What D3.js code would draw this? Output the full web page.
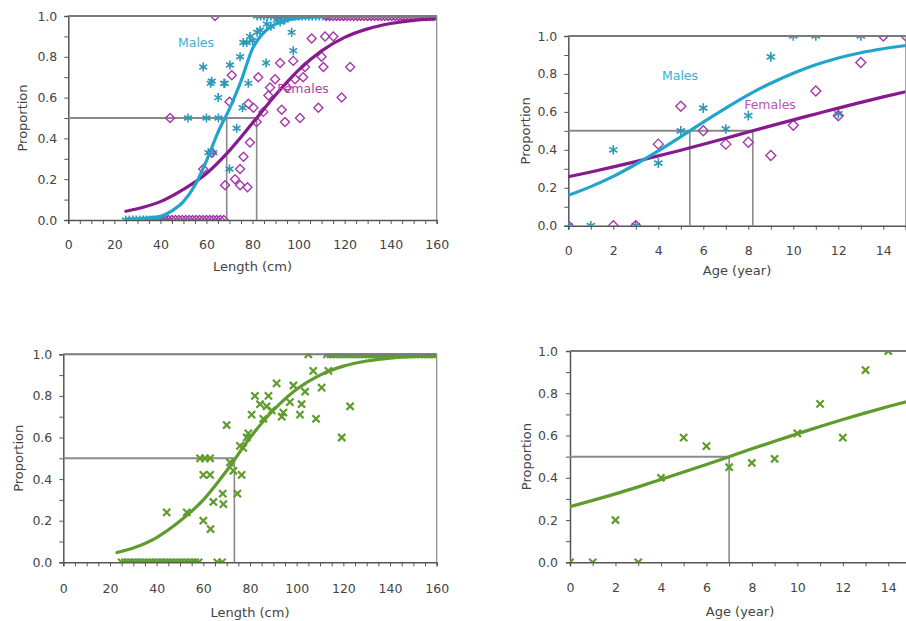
<!DOCTYPE html>
<html><head><meta charset="utf-8">
<script src="https://cdn.jsdelivr.net/npm/d3@7"></script>
<style>
body{margin:0;background:#fff;}
svg{display:block;font-family:"DejaVu Sans",Arial,sans-serif;}
</style></head>
<body><svg id="c" width="906" height="621"></svg>
<script>
// ---------- DATA ----------
// Panel A: maturity by length, by sex
const lenMaleX = [25,26.5,28,29.5,31,32.5,34,35.5,37,38.5,40,41.5,43,
  52,58.6,60,60.8,61.8,62.3,63,65.1,65.2,67.6,68,70,70.2,73.1,74.6,75.7,76,77.5,78.2,78.9,80,82,83.3,85.9,86.2,88,90.5,92,94,97,97.7,
  82,83.5,85,86.5,88,89.5,91,92.5,94,95.5,97,98.5,100,101.5,103,104.5,106,107.5,109,110.5,112];
const lenMaleY = [0,0,0,0,0,0,0,0,0,0,0,0,0,
  0.5,0.75,0.5,0.33,0.67,0.68,0.33,0.6,0.5,0.67,0.67,0.25,0.76,0.45,0.8,0.55,0.87,0.87,0.67,0.9,0.88,0.92,0.93,0.77,0.96,0.95,0.98,0.97,0.98,0.92,0.83,
  1,1,1,1,1,1,1,1,1,1,1,1,1,1,1,1,1,1,1,1,1];
const lenFemX = [42,43.5,45,46.5,48,49.5,51,52.5,54,55.5,57,58.5,60,61.5,63,64.5,66,67.5,
  63.7,44.2,58.6,62.3,70,71,68.1,72.4,74.6,76.1,74.6,77.8,78.9,78.2,80.4,82.5,81.8,84.7,86.9,87.6,89.8,92,92.7,94.1,95,97.7,98.5,100.6,102.8,102,105.7,108.6,110,110.8,111.5,115.1,118.7,122.4,
  112,113.5,115,116.5,118,119.5,121,122.5,124,125.5,127,128.5,130,131.5,133,134.5,136,137.5,139,140.5,142,143.5,145,146.5,148,149.5,151,152.5,154,155.5,157,158.5];
const lenFemY = [0,0,0,0,0,0,0,0,0,0,0,0,0,0,0,0,0,0,
  1,0.5,0.25,0.33,0.58,0.71,0.17,0.2,0.25,0.31,0.17,0.16,0.38,0.57,0.55,0.7,0.48,0.53,0.61,0.65,0.69,0.77,0.54,0.48,0.65,0.78,0.69,0.5,0.75,0.7,0.89,0.55,0.8,0.75,0.9,0.9,0.6,0.75,
  1,1,1,1,1,1,1,1,1,1,1,1,1,1,1,1,1,1,1,1,1,1,1,1,1,1,1,1,1,1,1,1];
const lenMaleCurveX = [25,30,35,40,45,50,55,60,65,70,75,80,85,90,95,100,110,120,140,160];
const lenMaleCurveY = [0.003,0.006,0.010,0.018,0.045,0.09,0.17,0.29,0.43,0.545,0.68,0.84,0.92,0.96,0.98,0.99,0.997,1,1,1];
const lenFemCurveX = [25,30,40,50,60,70,80,90,100,110,120,130,140,150,160];
const lenFemCurveY = [0.043,0.055,0.09,0.15,0.228,0.34,0.475,0.613,0.735,0.829,0.895,0.937,0.963,0.979,0.987];
const lenL50 = [68.8, 81.8];

// Panel B: maturity by age, by sex
const ageMaleX = [0,1,3,2,4,5,6,7,8,9,10,11,13,12];
const ageMaleY = [0,0,0,0.40,0.33,0.50,0.62,0.51,0.58,0.89,1,1,1,0.59];
const ageFemX = [0,2,3,4,5,6,7,8,9,10,11,12,13,14,15];
const ageFemY = [0,0,0,0.43,0.63,0.50,0.43,0.44,0.37,0.53,0.71,0.58,0.86,1,1];
const ageCurveX = [0,1,2,3,4,5,6,7,8,9,10,11,12,13,14,15];
const ageMaleCurveY = [0.16,0.206,0.26,0.324,0.394,0.469,0.546,0.62,0.69,0.751,0.804,0.848,0.884,0.912,0.933,0.95];
const ageFemCurveY = [0.258,0.283,0.31,0.338,0.368,0.398,0.429,0.461,0.494,0.526,0.558,0.589,0.62,0.65,0.679,0.706];
const ageA50 = [5.4, 8.2];

// Panel C: maturity by length, sexes combined
const lenAllX = [25,26.5,28,29.5,31,32.5,34,35.5,37,38.5,40,41.5,43,44.5,46,47.5,49,50.5,52,53.5,55,56.5,58,66,68,
  44.3,52.9,60,63.1,64.3,68.6,68.3,70,58.6,60.7,62.9,60,62.9,71.4,72.9,76.4,74.6,75.7,77.1,79.3,78.6,80.7,82.1,84.3,85.7,87.1,87.9,89.3,91.4,93.6,94.3,97.1,98.6,101.4,102.1,103.6,105,107.1,108.3,110.7,113.6,119.3,122.9,
  113,114.5,116,117.5,119,120.5,122,123.5,125,126.5,128,129.5,131,132.5,134,135.5,137,138.5,140,141.5,143,144.5,146,147.5,149,150.5,152,153.5,155,156.5,158,159.5];
const lenAllY = [0,0,0,0,0,0,0,0,0,0,0,0,0,0,0,0,0,0,0,0,0,0,0,0,0,
  0.24,0.24,0.2,0.16,0.29,0.28,0.33,0.66,0.5,0.5,0.5,0.42,0.42,0.48,0.44,0.42,0.33,0.56,0.55,0.62,0.6,0.71,0.8,0.76,0.69,0.75,0.8,0.73,0.86,0.7,0.72,0.77,0.85,0.71,0.76,0.82,1,0.92,0.69,0.84,0.92,0.6,0.75,
  1,1,1,1,1,1,1,1,1,1,1,1,1,1,1,1,1,1,1,1,1,1,1,1,1,1,1,1,1,1,1,1];
const lenAllCurveX = [23,30,40,50,60,70,80,90,100,110,120,130,140,150,160];
const lenAllCurveY = [0.047,0.069,0.119,0.198,0.30,0.44,0.599,0.731,0.832,0.90,0.943,0.968,0.982,0.99,0.994];
const lenAllL50 = [73.3];

// Panel D: maturity by age, sexes combined
const ageAllX = [0,1,2,3,4,5,6,7,8,9,10,11,12,13,14];
const ageAllY = [0,0,0.20,0,0.40,0.59,0.55,0.45,0.47,0.49,0.61,0.75,0.59,0.91,1.0];
const ageAllCurveY = [0.263,0.293,0.324,0.357,0.392,0.427,0.463,0.5,0.537,0.573,0.608,0.643,0.676,0.707,0.737,0.765];
const ageAllA50 = [7.0];

const yTickLabels = ["0.0","0.2","0.4","0.6","0.8","1.0"];
const lenTickLabels = ["0","20","40","60","80","100","120","140","160"];
const ageTickLabels = ["0","2","4","6","8","10","12","14"];

// ---------- STYLE ----------
const C_MALE = "#22a4cc", C_MALE_PT = "#2b98b8", C_FEM = "#861a8e", C_FEM_PT = "#a43aa8", C_GREEN = "#5f9c2c";
const FONT = "DejaVu Sans, Arial, sans-serif";
const svg = d3.select("#c");

function panel(o){
  const x = d3.scaleLinear().domain(o.xd).range([o.l, o.r]);
  const y = d3.scaleLinear().domain([0,1]).range([o.b, o.t]);
  const g = svg.append("g");
  const clipId = "clip"+Math.round(o.l)+Math.round(o.t);
  svg.append("clipPath").attr("id",clipId).append("rect")
     .attr("x",o.l).attr("y",o.t-1).attr("width",o.r-o.l).attr("height",o.b-o.t+1);
  // y axis ticks
  const ya = d3.axisLeft(y).tickValues(d3.range(0,1.01,0.1)).tickSize(4).tickFormat(()=>"");
  const yag = g.append("g").attr("transform",`translate(${o.l},0)`).call(ya);
  const yl = d3.axisLeft(y).tickValues(yTickLabels.map(Number)).tickSize(0).tickPadding(o.ypad)
     .tickFormat((d,i)=>yTickLabels[i]);
  const ylg = g.append("g").attr("transform",`translate(${o.l},0)`).call(yl);
  ylg.select(".domain").remove();
  // x axis
  const xa = d3.axisBottom(x).tickValues(o.minor).tickSize(4).tickFormat(()=>"");
  const xag = g.append("g").attr("transform",`translate(0,${o.b})`).call(xa);
  const xl = d3.axisBottom(x).tickValues(o.labels.map(Number)).tickSize(0).tickPadding(o.xpad)
     .tickFormat((d,i)=>o.labels[i]);
  const xlg = g.append("g").attr("transform",`translate(0,${o.b})`).call(xl);
  xlg.select(".domain").remove();
  [yag,xag].forEach(a=>{a.select(".domain").attr("stroke","#555").attr("stroke-width",1.5);a.selectAll(".tick line").attr("stroke","#555");});
  [ylg,xlg].forEach(a=>a.selectAll("text").attr("fill","#444").attr("font-size",12.5).attr("font-family",FONT));
  // titles
  g.append("text").attr("x",(o.l+Math.min(o.r,906))/2 + (o.xtOff||0)).attr("y",o.b+o.xt).attr("text-anchor","middle")
    .attr("font-size",13).attr("fill","#444").text(o.xtitle);
  g.append("text").attr("transform",`translate(${o.yt},${(o.t+o.b)/2}) rotate(-90)`).attr("text-anchor","middle")
    .attr("font-size",13).attr("fill","#444").text("Proportion");
  const plot = g.append("g").attr("clip-path",`url(#${clipId})`);
  // frame
  g.append("line").attr("x1",o.l).attr("x2",o.r).attr("y1",o.t).attr("y2",o.t).attr("stroke","#7a7a7a").attr("stroke-width",2);
  g.append("line").attr("x1",o.r).attr("x2",o.r).attr("y1",o.t).attr("y2",o.b).attr("stroke","#8a8a8a").attr("stroke-width",1.2);
  // reference lines
  const maxL = d3.max(o.l50);
  plot.append("line").attr("x1",x(0)).attr("x2",x(maxL)).attr("y1",y(0.5)).attr("y2",y(0.5)).attr("stroke","#8a8a8a").attr("stroke-width",2);
  o.l50.forEach(v=>plot.append("line").attr("x1",x(v)).attr("x2",x(v)).attr("y1",y(0.5)).attr("y2",y(0)).attr("stroke","#8a8a8a").attr("stroke-width",1.6));
  return {x,y,plot};
}

function star(sel, xs, ys, P, color, s){
  xs.forEach((v,i)=>{
    const cx=P.x(v), cy=P.y(ys[i]);
    const gg = sel.append("g").attr("stroke",color).attr("stroke-width",1.6);
    [0,60,120].forEach(a=>{
      const r=a*Math.PI/180;
      gg.append("line").attr("x1",cx-s*Math.sin(r)).attr("y1",cy-s*Math.cos(r)).attr("x2",cx+s*Math.sin(r)).attr("y2",cy+s*Math.cos(r));
    });
  });
}
function diamond(sel, xs, ys, P, color, s){
  sel.selectAll(null).data(xs).join("path")
    .attr("d",(d,i)=>{const cx=P.x(d), cy=P.y(ys[i]);return `M${cx},${cy-s}L${cx+s},${cy}L${cx},${cy+s}L${cx-s},${cy}Z`;})
    .attr("fill","none").attr("stroke",color).attr("stroke-width",1.4);
}
function cross(sel, xs, ys, P, color, s){
  sel.selectAll(null).data(xs).join("path")
    .attr("d",(d,i)=>{const cx=P.x(d), cy=P.y(ys[i]);return `M${cx-s},${cy-s}L${cx+s},${cy+s}M${cx+s},${cy-s}L${cx-s},${cy+s}`;})
    .attr("fill","none").attr("stroke",color).attr("stroke-width",2.2);
}
function curve(sel, xs, ys, P, color){
  const line = d3.line().x(d=>P.x(d[0])).y(d=>P.y(d[1])).curve(d3.curveMonotoneX);
  sel.append("path").datum(xs.map((v,i)=>[v,ys[i]])).attr("d",line)
    .attr("fill","none").attr("stroke",color).attr("stroke-width",3.2).attr("stroke-linecap","round");
}

// ---- Panel A ----
const A = panel({l:68.3,r:436.7,t:16,b:220,xd:[0,160],minor:d3.range(0,161,5),labels:lenTickLabels,
  ypad:11,xpad:20,xt:51,yt:27,xtitle:"Length (cm)",l50:lenL50});
star(A.plot, lenMaleX, lenMaleY, A, C_MALE_PT, 4.5);
diamond(A.plot, lenFemX, lenFemY, A, C_FEM_PT, 4.5);
curve(A.plot, lenFemCurveX, lenFemCurveY, A, C_FEM);
curve(A.plot, lenMaleCurveX, lenMaleCurveY, A, C_MALE);
svg.append("text").attr("x",196).attr("y",47).attr("text-anchor","middle").attr("font-size",12.5).attr("font-family",FONT).attr("fill","#3aaed6").text("Males");
svg.append("text").attr("x",303).attr("y",93).attr("text-anchor","middle").attr("font-size",12.5).attr("font-family",FONT).attr("fill","#b040b0").text("Females");

// ---- Panel B ----
const B = panel({l:568.3,r:905.8,t:36,b:225.7,xd:[0,15],minor:d3.range(0,16,1),labels:ageTickLabels,
  ypad:11,xpad:20,xt:49,yt:530,xtitle:"Age (year)",xtOff:0,l50:ageA50});
star(B.plot, ageMaleX, ageMaleY, B, C_MALE_PT, 4.8);
diamond(B.plot, ageFemX, ageFemY, B, C_FEM_PT, 5);
curve(B.plot, ageCurveX, ageFemCurveY, B, C_FEM);
curve(B.plot, ageCurveX, ageMaleCurveY, B, C_MALE);
svg.append("text").attr("x",680).attr("y",80).attr("text-anchor","middle").attr("font-size",12.5).attr("font-family",FONT).attr("fill","#3aaed6").text("Males");
svg.append("text").attr("x",770).attr("y",109).attr("text-anchor","middle").attr("font-size",12.5).attr("font-family",FONT).attr("fill","#c050c0").text("Females");

// ---- Panel C ----
const Cp = panel({l:63.3,r:436.7,t:354.3,b:562.3,xd:[0,160],minor:d3.range(0,161,5),labels:lenTickLabels,
  ypad:11,xpad:22,xt:55,yt:23,xtitle:"Length (cm)",l50:lenAllL50});
cross(Cp.plot, lenAllX, lenAllY, Cp, C_GREEN, 3.6);
curve(Cp.plot, lenAllCurveX, lenAllCurveY, Cp, C_GREEN);

// ---- Panel D ----
const D = panel({l:570,r:911,t:351,b:562.3,xd:[0,15],minor:d3.range(0,16,1),labels:ageTickLabels,
  ypad:12,xpad:21,xt:54,yt:531,xtitle:"Age (year)",xtOff:2,l50:ageAllA50});
cross(D.plot, ageAllX, ageAllY, D, C_GREEN, 3.6);
curve(D.plot, ageCurveX, ageAllCurveY, D, C_GREEN);
</script></body></html>
